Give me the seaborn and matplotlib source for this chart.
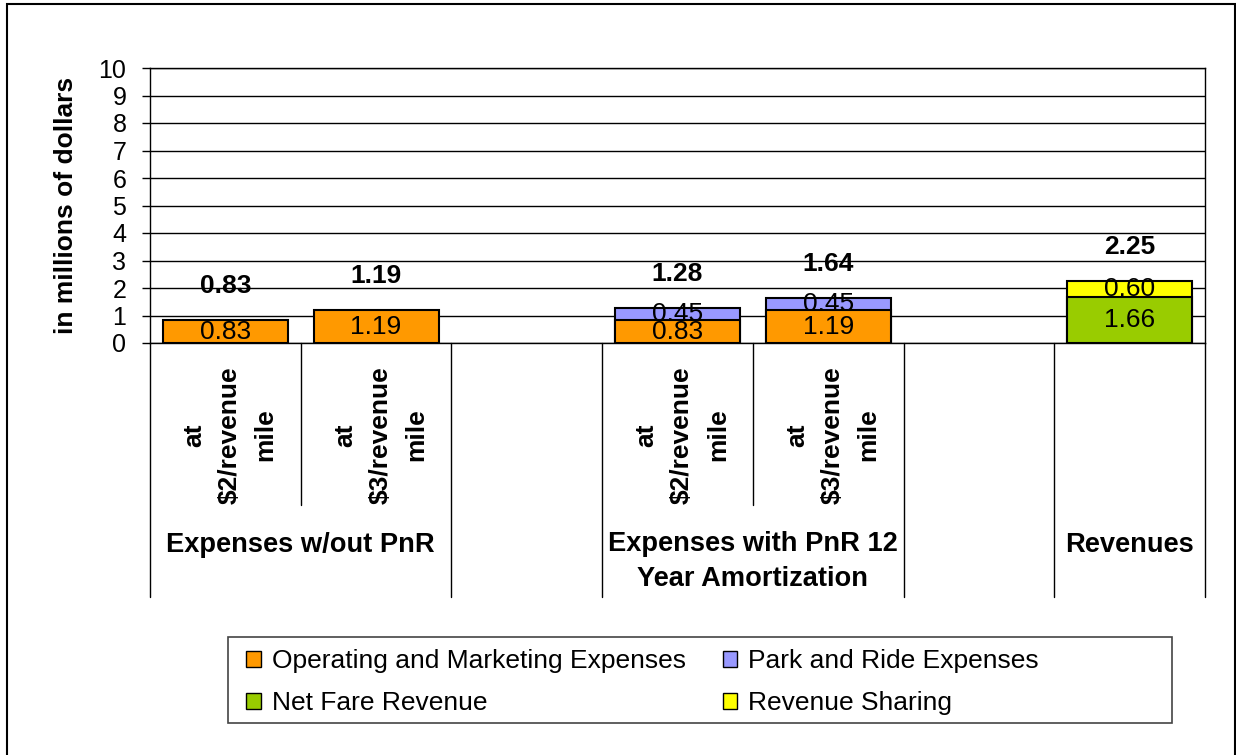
import matplotlib
matplotlib.use("Agg")
import matplotlib.pyplot as plt
import matplotlib.transforms as mtransforms
from matplotlib.patches import Patch, Rectangle
import seaborn as sns
import pandas as pd

# ---------------- data ----------------
slots = ["s0", "s1", "s2", "s3", "s4", "s5", "s6"]
sub_labels = ["at\n\\$2/revenue\nmile", "at\n\\$3/revenue\nmile", "",
              "at\n\\$2/revenue\nmile", "at\n\\$3/revenue\nmile", "", ""]
group_labels = ["Expenses w/out PnR", "Expenses w/out PnR", "",
                "Expenses with PnR 12\nYear Amortization",
                "Expenses with PnR 12\nYear Amortization", "", "Revenues"]

operating = [0.83, 1.19, None, 0.83, 1.19, None, None]
park_ride = [None, None, None, 0.45, 0.45, None, None]
net_fare = [None, None, None, None, None, None, 1.66]
rev_share = [None, None, None, None, None, None, 0.60]
totals = [0.83, 1.19, None, 1.28, 1.64, None, 2.25]

series_names = ["Operating and Marketing Expenses", "Park and Ride Expenses",
                "Net Fare Revenue", "Revenue Sharing"]
series_values = [operating, park_ride, net_fare, rev_share]
series_colors = ["#FF9900", "#9999FF", "#99CC00", "#FFFF00"]

# ---------------- style ----------------
sns.set_style("white")
plt.rcParams["font.family"] = ["Liberation Sans", "DejaVu Sans"]
plt.rcParams["text.color"] = "black"
plt.rcParams["axes.labelcolor"] = "black"
plt.rcParams["xtick.color"] = "black"
plt.rcParams["ytick.color"] = "black"
FS = 19

W, H = 1236, 755
fig = plt.figure(figsize=(W / 100, H / 100), dpi=100)
ax = fig.add_axes([150 / W, 1 - 343 / H, (1205 - 150) / W, (343 - 68) / H])

# cumulative tops for each series
bottoms = [0.0] * len(slots)
tops_per_series = []
for vals in series_values:
    tops = []
    for i, v in enumerate(vals):
        if v is None:
            tops.append(None)
        else:
            tops.append(bottoms[i] + v)
    tops_per_series.append(tops)
    for i, v in enumerate(vals):
        if v is not None:
            bottoms[i] += v

# draw layers from the top of the stack down so that lower layers overlay
for s in reversed(range(len(series_values))):
    rows = [(slots[i], t) for i, t in enumerate(tops_per_series[s]) if t is not None]
    df = pd.DataFrame(rows, columns=["slot", "top"])
    sns.barplot(data=df, x="slot", y="top", order=slots, color=series_colors[s],
                saturation=1, width=0.83, edgecolor="black", linewidth=1.5,
                errorbar=None, ax=ax)

# segment labels
for s, vals in enumerate(series_values):
    for i, v in enumerate(vals):
        if v is not None:
            top = tops_per_series[s][i]
            ax.text(i, top - v / 2, f"{v:.2f}", ha="center", va="center",
                    fontsize=FS, color="black")

# total labels
for i, t in enumerate(totals):
    if t is not None:
        ax.annotate(f"{t:.2f}", xy=(i, bottoms[i]), xytext=(0, 24.5),
                    textcoords="offset points", ha="center", va="center",
                    fontsize=FS, fontweight="bold", color="black")

# axes
ax.set_ylim(0, 10)
ax.set_xlim(-0.5, len(slots) - 0.5)
ax.set_yticks(range(0, 11))
ax.yaxis.grid(True, color="black", linewidth=1)
ax.set_axisbelow(True)
ax.set_xlabel("")
ax.set_ylabel("")
ax.tick_params(axis="x", length=0, labelbottom=False)
ax.tick_params(axis="y", length=6, width=1, color="black", pad=11,
               labelsize=18, left=True, labelcolor="black")
for sp in ax.spines.values():
    sp.set_color("black")
    sp.set_linewidth(1)

fig.text(66 / W, 1 - 205 / H, "in millions of dollars", rotation=90,
         ha="center", va="center", fontsize=FS, fontweight="bold", color="black")

# category separators and labels
trans = mtransforms.blended_transform_factory(ax.transData, ax.transAxes)
ax_h = 343 - 68
y_short = -(505 - 343) / ax_h
y_long = -(597 - 343) / ax_h
n = len(slots)
for k in range(n + 1):
    x = k - 0.5
    is_long = k == 0 or k == n or group_labels[k - 1] != group_labels[k]
    ax.plot([x, x], [0, y_long if is_long else y_short], color="black",
            linewidth=1, transform=trans, clip_on=False)

for i, lab in enumerate(sub_labels):
    if lab:
        ax.text(i + 0.03, -(435 - 343) / ax_h, lab, rotation=90, ha="center",
                va="center", multialignment="center", fontsize=FS,
                fontweight="bold", transform=trans, linespacing=1.62,
                color="black")

seen = []
for g in group_labels:
    if g and g not in seen:
        seen.append(g)
for g in seen:
    idx = [i for i, gg in enumerate(group_labels) if gg == g]
    xc = sum(idx) / len(idx)
    nlines = g.count("\n") + 1
    yc = 545 + (nlines - 1) * 33 / 2
    ax.text(xc, -(yc - 343) / ax_h, g, ha="center", va="center",
            multialignment="center", fontsize=19.6, fontweight="bold",
            transform=trans, linespacing=1.42, color="black")

# legend (frame drawn separately)
handles = [Patch(facecolor=c, edgecolor="black", linewidth=1) for c in series_colors]
order_idx = [0, 2, 1, 3]
leg = fig.legend([handles[i] for i in order_idx], [series_names[i] for i in order_idx],
                 ncol=2, loc="upper left",
                 bbox_to_anchor=(246 / W, 1 - 649 / H), frameon=False,
                 fontsize=FS, handlelength=0.55, handleheight=0.55,
                 handletextpad=0.42, columnspacing=1.4, labelspacing=0.68,
                 borderpad=0, borderaxespad=0)
for t in leg.get_texts():
    t.set_color("black")
fig.patches.append(Rectangle((228 / W, 1 - 723 / H), (1172 - 228) / W, (723 - 637) / H,
                             transform=fig.transFigure, fill=False,
                             edgecolor="#444444", linewidth=1.2))

# outer chart border
fig.patches.append(Rectangle((7 / W, -0.05), (1234.5 - 7) / W, 1.05 - 4 / H,
                             transform=fig.transFigure, fill=False,
                             edgecolor="black", linewidth=1.5))

fig.savefig("out.png", dpi=100)
